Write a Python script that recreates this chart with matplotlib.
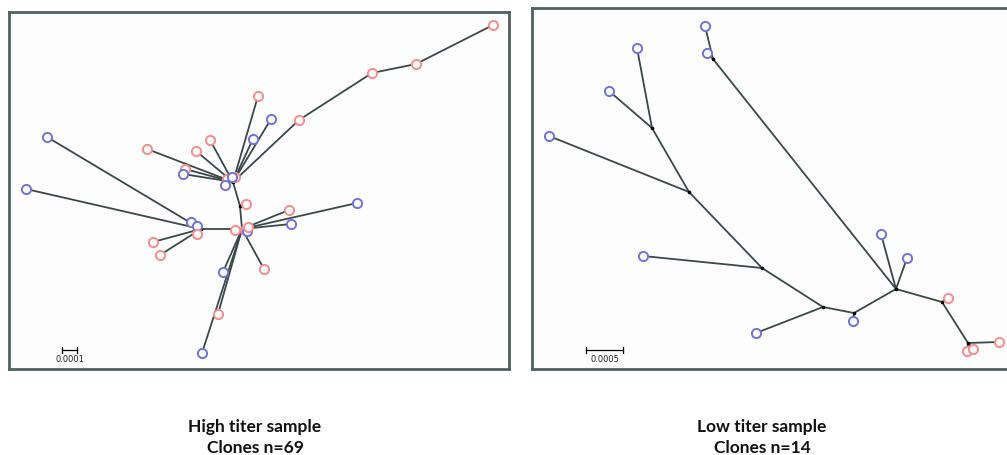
import matplotlib
matplotlib.use("Agg")
import matplotlib.pyplot as plt

# ---------------- data: tree layouts (node positions in layout units) ----------------
# High titer sample tree
hi_names = ["h1", "h2", "h3", "b1", "p1", "p2", "p3", "p4",
            "z1", "z2", "z3", "z4",
            "t1", "t2", "t3", "t4", "t5", "t6", "t7", "t8",
            "t9",
            "z5", "z6", "z7", "z8",
            "t10", "t11", "t12", "t13", "t14", "t15", "t16",
            "z9", "z10", "z11",
            "t17", "t18", "t19", "t20"]
hi_x = [233, 201, 242, 240, 299, 372, 416, 493,
        227, 225, 235, 232,
        147, 185, 183, 196, 210, 258, 253, 271,
        246,
        235, 245, 247, 248,
        289, 291, 357, 264, 223, 218, 202,
        191, 197, 197,
        47, 26, 153, 160]
hi_y = [183, 230, 230, 207, 121, 74, 65, 26,
        180, 186, 178, 178,
        150, 170, 175, 152, 141, 97, 140, 120,
        205,
        231, 231, 232, 228,
        211, 225, 204, 270, 273, 315, 354,
        223, 227, 235,
        138, 190, 243, 256]
hi_parent = [None, "h3", None, "h1", "h1", "p1", "p2", "p3",
             "h1", "h1", "h1", "h1",
             "h1", "h1", "h1", "h1", "h1", "h1", "h1", "h1",
             "b1",
             "h3", "h3", "h3", "h3",
             "h3", "h3", "h3", "h3", "h3", "h3", "h3",
             "h2", "h2", "h2",
             "h2", "h2", "h2", "h2"]
hi_group = ["", "", "", "", "R", "R", "R", "R",
            "R", "B", "R", "B",
            "R", "R", "B", "R", "R", "R", "B", "B",
            "R",
            "R", "R", "B", "R",
            "R", "B", "B", "R", "B", "R", "B",
            "B", "B", "R",
            "B", "B", "R", "R"]
# extra bend: h1 -> b1 -> h3
hi_extra_edges = [("b1", "h3")]

# Low titer sample tree
lo_names = ["r1", "r2", "r3", "r4", "r5", "r6", "r7", "r8", "r9",
            "s1", "s2", "s3", "s4", "s5", "s6", "s7", "s8", "s9", "s10",
            "s11", "s12", "s13", "s14"]
lo_x = [652, 689, 762, 823, 854, 896, 713, 942, 968,
        637, 609, 549, 643, 756, 853, 881, 907, 705, 707,
        948, 999, 967, 973]
lo_y = [129, 193, 269, 308, 314, 290, 60, 303, 344,
        49, 92, 137, 257, 334, 322, 235, 259, 27, 54,
        299, 343, 352, 350]
lo_parent = ["r2", "r3", "r4", "r5", "r6", None, "r6", "r6", "r8",
             "r1", "r1", "r2", "r3", "r4", "r5", "r6", "r6", "r7", "r7",
             "r8", "r9", "r9", "r9"]
lo_group = ["", "", "", "", "", "", "", "", "",
            "B", "B", "B", "B", "B", "B", "B", "B", "B", "B",
            "R", "R", "R", "R"]

caption_titles = ["High titer sample", "Low titer sample"]
caption_counts = ["Clones n=69", "Clones n=14"]
scale_labels = ["0.0001", "0.0005"]

# ---------------- style ----------------
W, H = 1007, 456
BLUE = "#7272d8"
RED = "#f28e8e"
EDGE = "#3b4848"
FRAME = "#506060"

fig = plt.figure(figsize=(W / 100, H / 100), dpi=100)
fig.patch.set_facecolor("white")


def make_ax(x0, x1, y0, y1, hide_right=False):
    ax = fig.add_axes([x0 / W, 1 - y1 / H, (x1 - x0) / W, (y1 - y0) / H])
    ax.set_xlim(x0, x1)
    ax.set_ylim(y1, y0)
    ax.set_xticks([])
    ax.set_yticks([])
    ax.set_facecolor("#fdfdfe")
    for s in ax.spines.values():
        s.set_color(FRAME)
        s.set_linewidth(2)
    if hide_right:
        ax.spines["right"].set_visible(False)
    return ax


def draw_tree(ax, names, xs, ys, parents, groups, extra=()):
    idx = {n: i for i, n in enumerate(names)}
    edges = [(p, n) for n, p in zip(names, parents) if p is not None] + list(extra)
    for a, b in edges:
        ia, ib = idx[a], idx[b]
        ax.plot([xs[ia], xs[ib]], [ys[ia], ys[ib]], color=EDGE, lw=1.3,
                solid_capstyle="round", zorder=1)
    for n, x, y, g in zip(names, xs, ys, groups):
        if g == "":
            ax.plot(x, y, "o", ms=1.6, color="black", zorder=2)
    for n, x, y, g in zip(names, xs, ys, groups):
        if g:
            ax.plot(x, y, "o", ms=6.6, mfc="white", mec=BLUE if g == "B" else RED,
                    mew=1.4, zorder=3)


def scale_bar(ax, x0, x1, y, label):
    ax.plot([x0, x1], [y, y], color="black", lw=0.9, zorder=2)
    for xx in (x0, x1):
        ax.plot([xx, xx], [y - 3, y + 3], color="black", lw=0.9, zorder=2)
    ax.text((x0 + x1) / 2, y + 4, label, ha="center", va="top",
            fontsize=6, family="DejaVu Sans", color="#222222")


ax1 = make_ax(9, 509, 13, 370)
draw_tree(ax1, hi_names, hi_x, hi_y, hi_parent, hi_group, hi_extra_edges)
scale_bar(ax1, 62, 77, 351, scale_labels[0])

ax2 = make_ax(532, 1007, 9, 370, hide_right=True)
draw_tree(ax2, lo_names, lo_x, lo_y, lo_parent, lo_group)
scale_bar(ax2, 586, 623, 351, scale_labels[1])

for cx, t1, t2 in zip([255, 762], caption_titles, caption_counts):
    for yb, txt in ((432, t1), (453, t2)):
        fig.text(cx / W, 1 - yb / H, txt, ha="center", va="baseline",
                 fontsize=12.5, fontweight="bold", family="Lato",
                 color="#111111")

fig.savefig("out.png", dpi=100, facecolor="white")
